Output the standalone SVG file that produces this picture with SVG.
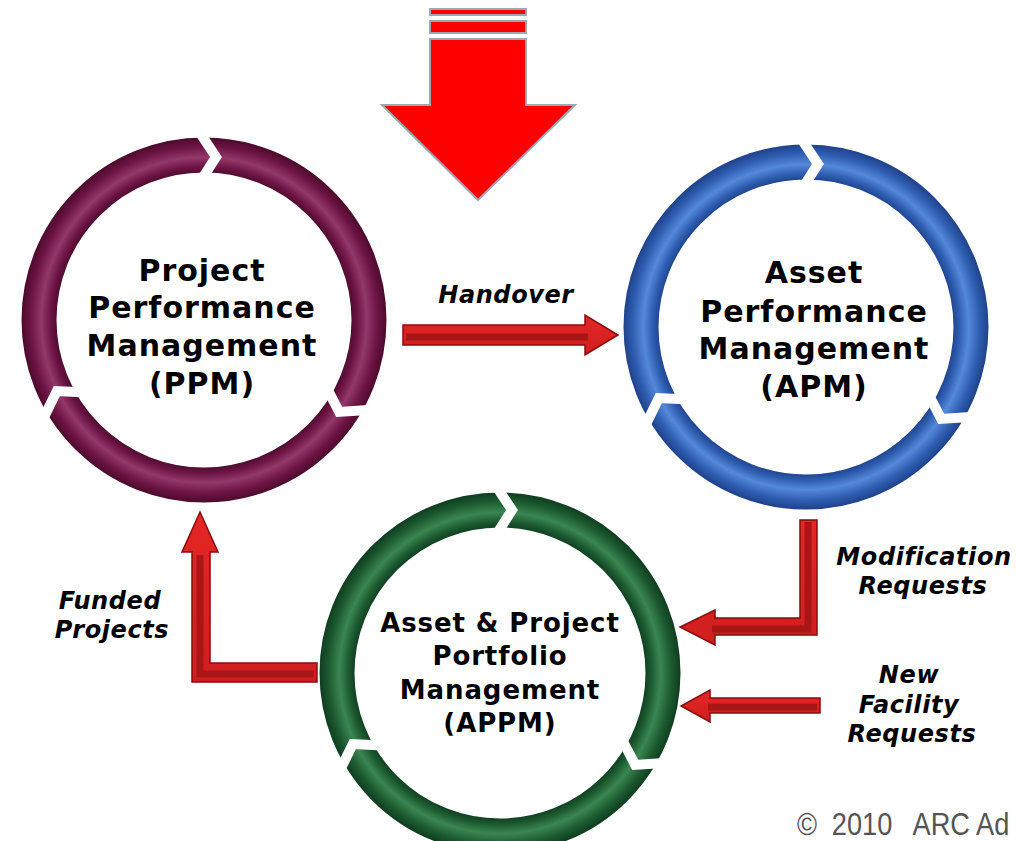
<svg xmlns="http://www.w3.org/2000/svg" xmlns:xlink="http://www.w3.org/1999/xlink" width="1016" height="841" viewBox="0 0 1016 841">
<style>
.ring{fill:none;stroke-width:35}
.chev{fill:none;stroke:#fff;stroke-width:10;stroke-linejoin:miter}
.title{font-family:"DejaVu Sans",Verdana,sans-serif;font-weight:bold;font-size:30px;letter-spacing:1px;fill:#000;text-anchor:middle}
.t2{font-size:26px;letter-spacing:0.9px}
.lbl{font-family:"DejaVu Sans",Verdana,sans-serif;font-weight:bold;font-style:italic;font-size:24px;letter-spacing:0.6px;fill:#000;text-anchor:middle}
.arr{fill:url(#redg);stroke:#8A0C0C;stroke-width:1.5;stroke-linejoin:miter}
.ridge{fill:none;stroke:#A81616;stroke-width:7;stroke-linejoin:miter}
.big{fill:#FF0000;stroke:#9EA8B4;stroke-width:2}
.copy{font-family:"Liberation Sans",Arial,sans-serif;font-size:32px;fill:#555}
</style>
<defs>
<radialGradient id="gPPM" cx="0.5" cy="0.5" r="0.56">
<stop offset="0.79" stop-color="#4A0A2A"/>
<stop offset="0.83" stop-color="#6C1444"/>
<stop offset="0.88" stop-color="#93386A"/>
<stop offset="0.94" stop-color="#6C1444"/>
<stop offset="0.99" stop-color="#4A0A2A"/>
</radialGradient>
<radialGradient id="gAPM" cx="0.5" cy="0.5" r="0.56">
<stop offset="0.79" stop-color="#1E4088"/>
<stop offset="0.83" stop-color="#2E5DB0"/>
<stop offset="0.88" stop-color="#5588DA"/>
<stop offset="0.94" stop-color="#2E5DB0"/>
<stop offset="0.99" stop-color="#1E4088"/>
</radialGradient>
<radialGradient id="gAPPM" cx="0.5" cy="0.5" r="0.56">
<stop offset="0.79" stop-color="#0E3C1E"/>
<stop offset="0.83" stop-color="#1C5A30"/>
<stop offset="0.88" stop-color="#3A8652"/>
<stop offset="0.94" stop-color="#1C5A30"/>
<stop offset="0.99" stop-color="#0E3C1E"/>
</radialGradient>
<linearGradient id="redg" x1="0" y1="0" x2="0" y2="1">
<stop offset="0" stop-color="#E42626"/>
<stop offset="1" stop-color="#D01E1E"/>
</linearGradient>
<polyline id="chev" class="chev" points="-6,-190 12,-163 -4,-138"/>
</defs>

<g id="top-arrow">
<rect class="big" x="430" y="9" width="96" height="6"/>
<rect class="big" x="430" y="21" width="96" height="12"/>
<polygon class="big" points="430,39 526,39 526,105 575,105 478,200 382,105 430,105"/>
</g>

<g id="ppm">
<circle class="ring" cx="204" cy="320" r="165" stroke="url(#gPPM)"/>
<use xlink:href="#chev" transform="translate(204,320)"/>
<use xlink:href="#chev" transform="translate(204,320) rotate(120)"/>
<use xlink:href="#chev" transform="translate(204,320) rotate(240)"/>
<text class="title" x="202" y="281">Project</text>
<text class="title" x="202" y="318">Performance</text>
<text class="title" x="202" y="356">Management</text>
<text class="title" x="202" y="394">(PPM)</text>
</g>

<g id="apm">
<circle class="ring" cx="806" cy="327" r="165" stroke="url(#gAPM)"/>
<use xlink:href="#chev" transform="translate(806,327)"/>
<use xlink:href="#chev" transform="translate(806,327) rotate(120)"/>
<use xlink:href="#chev" transform="translate(806,327) rotate(240)"/>
<text class="title" x="814" y="283">Asset</text>
<text class="title" x="814" y="322">Performance</text>
<text class="title" x="814" y="359">Management</text>
<text class="title" x="814" y="397">(APM)</text>
</g>

<g id="appm">
<circle class="ring" cx="500" cy="673" r="163" stroke="url(#gAPPM)"/>
<use xlink:href="#chev" transform="translate(500,673)"/>
<use xlink:href="#chev" transform="translate(500,673) rotate(120)"/>
<use xlink:href="#chev" transform="translate(500,673) rotate(240)"/>
<text class="title t2" x="500" y="632">Asset &amp; Project</text>
<text class="title t2" x="500" y="665">Portfolio</text>
<text class="title t2" x="500" y="699">Management</text>
<text class="title t2" x="500" y="732">(APPM)</text>
</g>

<g id="connectors">
<g id="handover">
<polygon class="arr" points="403,325 585,325 585,315 618,335 585,355 585,345 403,345"/>
<polyline class="ridge" points="406,337 588,337"/>
</g>
<g id="modification">
<polygon class="arr" points="817,520 817,635 715,635 715,645 680,627 715,610 715,618 800,618 800,520"/>
<polyline class="ridge" points="808,522 808,629 712,629"/>
</g>
<g id="newfacility">
<polygon class="arr" points="820,698 820,713 710,713 710,722 681,706 710,690 710,698"/>
<polyline class="ridge" points="817,707 708,707"/>
</g>
<g id="funded">
<polygon class="arr" points="317,663 317,682 192,682 192,552 182,552 200,512 218,552 210,552 210,663"/>
<polyline class="ridge" points="314,674 200,674 200,555"/>
</g>
</g>

<g id="labels">
<text class="lbl" x="506" y="303">Handover</text>
<text class="lbl" x="924" y="565">Modification</text>
<text class="lbl" x="923" y="594">Requests</text>
<text class="lbl" x="909" y="683">New</text>
<text class="lbl" x="909" y="713">Facility</text>
<text class="lbl" x="912" y="742">Requests</text>
<text class="lbl" x="110" y="609">Funded</text>
<text class="lbl" x="112" y="638">Projects</text>
</g>

<text class="copy" transform="translate(797,835) scale(0.85,1)"><tspan x="0" y="0">©</tspan><tspan x="41" y="0">2010</tspan><tspan x="136" y="0">ARC Ad</tspan></text>
</svg>
